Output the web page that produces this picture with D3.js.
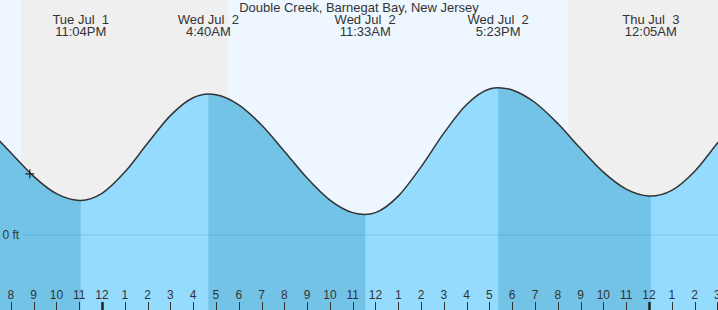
<!DOCTYPE html>
<html>
<head>
<meta charset="utf-8">
<script src="https://cdn.jsdelivr.net/npm/d3@7"></script>
<style>
  html, body { margin: 0; padding: 0; background: #fff; }
  svg { display: block; font-family: "Liberation Sans", Arial, sans-serif; }
</style>
</head>
<body>
<svg id="chart" width="718" height="310"></svg>
<script>
// ---- data ----
const title = "Double Creek, Barnegat Bay, New Jersey";
const hourlyTimes = [
  "2025-07-01T19:00","2025-07-01T20:00","2025-07-01T21:00","2025-07-01T22:00","2025-07-01T23:00",
  "2025-07-02T00:00","2025-07-02T01:00","2025-07-02T02:00","2025-07-02T03:00","2025-07-02T04:00",
  "2025-07-02T05:00","2025-07-02T06:00","2025-07-02T07:00","2025-07-02T08:00","2025-07-02T09:00",
  "2025-07-02T10:00","2025-07-02T11:00","2025-07-02T12:00","2025-07-02T13:00","2025-07-02T14:00",
  "2025-07-02T15:00","2025-07-02T16:00","2025-07-02T17:00","2025-07-02T18:00","2025-07-02T19:00",
  "2025-07-02T20:00","2025-07-02T21:00","2025-07-02T22:00","2025-07-02T23:00",
  "2025-07-03T00:00","2025-07-03T01:00","2025-07-03T02:00","2025-07-03T03:00","2025-07-03T04:00"
];
const hourlyHeights = [
  1.773, 1.371, 0.978, 0.689, 0.576,
  0.694, 1.048, 1.529, 1.990, 2.288,
  2.338, 2.170, 1.833, 1.396, 0.949,
  0.582, 0.373, 0.373, 0.648, 1.135,
  1.697, 2.174, 2.432, 2.418, 2.208,
  1.857, 1.440, 1.047, 0.765,
  0.651, 0.745, 1.060, 1.530, 2.000
];
const extremeTimes = ["2025-07-01T23:04","2025-07-02T04:40","2025-07-02T11:33","2025-07-02T17:23","2025-07-03T00:05"];
const extremeHeights = [0.575, 2.350, 0.342, 2.455, 0.650];
const extremeTypes = ["low","high","low","high","low"];
const sunsetTimes = ["2025-07-01T20:27","2025-07-02T20:27"];
const sunriseTimes = ["2025-07-02T05:32"];
const nowTime = "2025-07-01T20:50";
const nowHeight = 1.02;
const zeroLabel = "0 ft";
const viewStart = "2025-07-01T19:31:30";
const viewEnd = "2025-07-03T03:01:48";

// ---- setup ----
const W = 718, H = 310;
const parse = d3.timeParse("%Y-%m-%dT%H:%M");
const parseS = d3.timeParse("%Y-%m-%dT%H:%M:%S");
const svg = d3.select("#chart");

const x = d3.scaleTime().domain([parseS(viewStart), parseS(viewEnd)]).range([0, W]);
const y = d3.scaleLinear().domain([0, 2.5]).range([235, 85]);

const pts = hourlyTimes.map((t, i) => ({t: parse(t), h: hourlyHeights[i]}))
  .concat(extremeTimes.map((t, i) => ({t: parse(t), h: extremeHeights[i]})))
  .sort((a, b) => a.t - b.t);
const ext = extremeTimes.map((t, i) => ({t: parse(t), h: extremeHeights[i], type: extremeTypes[i]}));

// background
svg.append("rect").attr("x", 0).attr("y", 0).attr("width", W).attr("height", H).attr("fill", "#eef7ff");
// night shading
const dStart = x.domain()[0], dEnd = x.domain()[1];
const sets = sunsetTimes.map(parse), rises = sunriseTimes.map(parse);
const nights = sets.map((s, i) => [s, rises[i] || dEnd]);
svg.selectAll("rect.night").data(nights).enter().append("rect")
  .attr("class", "night")
  .attr("x", d => x(d[0])).attr("y", 0)
  .attr("width", d => x(d[1]) - x(d[0])).attr("height", H)
  .attr("fill", "#efefef");

// water
const area = d3.area().curve(d3.curveMonotoneX)
  .x(d => x(d.t)).y0(H).y1(d => y(d.h));
const line = d3.line().curve(d3.curveMonotoneX)
  .x(d => x(d.t)).y(d => y(d.h));

svg.append("defs").append("clipPath").attr("id", "water")
  .append("path").attr("d", area(pts));
svg.append("path").attr("d", area(pts)).attr("fill", "#95dbfd");

// falling-tide (dark) intervals: from each high (or start) to next low
const bounds = [dStart].concat(ext.map(e => e.t), [dEnd]);
const falling = [];
for (let i = 0; i < bounds.length - 1; i++) {
  const nextType = i < ext.length ? ext[i].type : null;
  if (nextType === "low") falling.push([bounds[i], bounds[i + 1]]);
}
svg.append("g").attr("clip-path", "url(#water)")
  .selectAll("rect").data(falling).enter().append("rect")
  .attr("x", d => x(d[0])).attr("y", 0)
  .attr("width", d => x(d[1]) - x(d[0])).attr("height", H)
  .attr("fill", "#73c3e7");

// zero line
svg.append("line")
  .attr("x1", 22).attr("x2", W).attr("y1", y(0)).attr("y2", y(0))
  .attr("stroke", "#1a6a9a").attr("stroke-opacity", 0.18).attr("stroke-width", 1);
svg.append("text").attr("x", 2.5).attr("y", y(0) + 4)
  .attr("font-size", 12).attr("fill", "#333").text(zeroLabel);

// tide curve
svg.append("path").attr("d", line(pts))
  .attr("fill", "none").attr("stroke", "#333").attr("stroke-width", 1.5);

// now marker
const nx = x(parse(nowTime)), ny = y(nowHeight);
svg.append("path")
  .attr("d", `M${nx - 4.5},${ny}H${nx + 4.5}M${nx},${ny - 4.5}V${ny + 4.5}`)
  .attr("stroke", "#222").attr("stroke-width", 1.2);

// title
svg.append("text").attr("x", W / 2).attr("y", 12)
  .attr("text-anchor", "middle").attr("font-size", 13).attr("fill", "#333").text(title);

// extreme labels
const fDay = d3.timeFormat("%a %b %e");
const fTime = d3.timeFormat("%-I:%M%p");
const lab = svg.selectAll("text.ext").data(ext).enter().append("text")
  .attr("class", "ext")
  .attr("text-anchor", "middle").attr("font-size", 13).attr("fill", "#333")
  .style("white-space", "pre");
lab.append("tspan").attr("x", d => x(d.t)).attr("y", 24).text(d => fDay(d.t));
lab.append("tspan").attr("x", d => x(d.t)).attr("y", 36).text(d => fTime(d.t));

// hour axis
const ticks = x.ticks(d3.timeHour.every(1));
const fHour = d3.timeFormat("%-I");
const tg = svg.append("g");
tg.selectAll("line").data(ticks).enter().append("line")
  .attr("x1", d => Math.round(x(d)) + 0.5).attr("x2", d => Math.round(x(d)) + 0.5)
  .attr("y1", 302).attr("y2", H)
  .attr("stroke", d => d.getHours() === 0 ? "#222" : "#333")
  .attr("stroke-width", d => d.getHours() === 0 ? 2.5 : 1);
tg.selectAll("text").data(ticks).enter().append("text")
  .attr("x", d => x(d)).attr("y", 299)
  .attr("text-anchor", "middle").attr("font-size", 12).attr("fill", "#333")
  .text(d => fHour(d));
</script>
</body>
</html>
